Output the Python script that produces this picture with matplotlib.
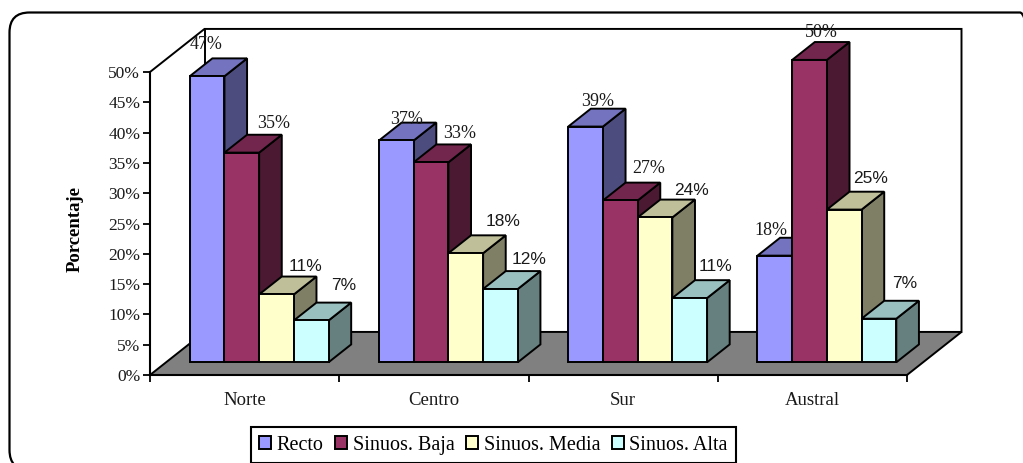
import matplotlib
matplotlib.use('Agg')
import numpy as np
import matplotlib.pyplot as plt
from matplotlib.patches import FancyBboxPatch, Patch, Polygon
from matplotlib.transforms import IdentityTransform

categories = ['Norte', 'Centro', 'Sur', 'Austral']
series_names = ['Recto', 'Sinuos. Baja', 'Sinuos. Media', 'Sinuos. Alta']
recto = [47.2, 36.6, 38.9, 17.6]
baja = [34.6, 33.0, 26.7, 49.9]
media = [11.2, 18.0, 23.9, 25.2]
alta = [6.9, 12.1, 10.6, 7.2]
yticks = [0, 5, 10, 15, 20, 25, 30, 35, 40, 45, 50]

colors = ['#9999FF', '#993366', '#FFFFCC', '#CCFFFF']
tops = ['#7373BF', '#73264D', '#BFBF99', '#99BFBF']
sides = ['#4C4C7F', '#4C1933', '#7F7F66', '#667F7F']

# hand placed labels of the original, pixels from the top centre of each bar
label_dx = [[-1, 32, 29, 32], [10, 29, 37, 29], [12, 28, 36, 26], [-4, 12, 26, 26]]
label_dy = [[32, 29, 28, 35], [21, 29, 32, 29], [25, 32, 27, 32], [25, 27, 31, 35]]

W, H = 1023, 463
DX = 54.5 / 189.25  # depth of the box, category units
DY = 43 / 6.05      # depth of the box, percent units
D0, D1 = 0.295, 0.71
BAR = 0.1834
START = 0.125
LW = 1.4


def proj(x, v, d):
    return (x + d * DX, v + d * DY)


fig = plt.figure(figsize=(W / 100, H / 100), dpi=100, facecolor='white')
ax = fig.add_axes([150 / W, (H - 375) / H, 757 / W, 303 / H])
ax.patch.set_visible(False)
ax.set_xlim(0, 4)
ax.set_ylim(0, 50)

# frame round the chart, runs off the right and bottom of the picture
r = 20
frame = FancyBboxPatch((9.5 + r, H - 470 + r), 1040 - 9.5 - 2 * r, 457.5 - 2 * r,
                       boxstyle='round,pad=%d,rounding_size=%d' % (r, r),
                       transform=IdentityTransform(), fc='none', ec='black', lw=1.6, zorder=-1)
fig.add_artist(frame)

# walls and floor
floor = [proj(0, 0, 0), proj(4, 0, 0), proj(4, 0, 1), proj(0, 0, 1)]
ax.add_patch(Polygon(floor, fc='#808080', ec='black', lw=LW, clip_on=False, zorder=1))
wall = [proj(0, 50, 0), proj(0, 50, 1), proj(4, 50, 1), proj(4, 0, 1)]
ax.plot(*zip(*wall), color='black', lw=LW, clip_on=False, zorder=1, solid_joinstyle='miter')
corner = [proj(0, 0, 1), proj(0, 50, 1)]
ax.plot(*zip(*corner), color='black', lw=LW, clip_on=False, zorder=1)

# bars
all_series = [recto, baja, media, alta]
for c in range(len(categories)):
    for s, vals in enumerate(all_series):
        v = vals[c]
        x0 = c + START + s * BAR
        x1 = x0 + BAR
        side = [proj(x1, 0, D0), proj(x1, 0, D1), proj(x1, v, D1), proj(x1, v, D0)]
        top = [proj(x0, v, D0), proj(x1, v, D0), proj(x1, v, D1), proj(x0, v, D1)]
        front = [proj(x0, 0, D0), proj(x1, 0, D0), proj(x1, v, D0), proj(x0, v, D0)]
        for pts, col in [(side, sides[s]), (top, tops[s]), (front, colors[s])]:
            ax.add_patch(Polygon(pts, fc=col, ec='black', lw=LW, clip_on=False,
                                 joinstyle='miter', zorder=2))

# value labels, first two series are serif in the original
for c in range(len(categories)):
    for s, vals in enumerate(all_series):
        v = vals[c]
        ax.annotate('%.0f%%' % v, proj(c + START + (s + 0.5) * BAR, v, D0),
                    xytext=(label_dx[c][s], label_dy[c][s]), textcoords='offset pixels',
                    ha='center', va='center', color='#1a1a1a', zorder=5, annotation_clip=False,
                    family='Liberation Serif' if s < 2 else 'Liberation Sans',
                    fontsize=13 if s < 2 else 12.5)

# axes
for name in ['top', 'right']:
    ax.spines[name].set_visible(False)
for name in ['left', 'bottom']:
    ax.spines[name].set_linewidth(1.5)
    ax.spines[name].set_zorder(3)
ax.set_yticks(yticks)
ax.set_yticklabels(['%d%%' % t for t in yticks], family='Liberation Serif', fontsize=12.5, color='#1a1a1a')
ax.tick_params(axis='y', length=5, width=1.3, pad=2)
ax.set_xticks(range(len(categories) + 1))
ax.set_xticklabels([])
ax.set_xticks(np.arange(len(categories)) + 0.5, minor=True)
ax.set_xticklabels(categories, minor=True, family='Liberation Serif', fontsize=13.5, color='#1a1a1a')
ax.tick_params(axis='x', which='major', length=5, width=1.3)
ax.tick_params(axis='x', which='minor', length=0, pad=12.5)
ax.set_ylabel('Porcentaje', family='Liberation Serif', fontweight='bold', fontsize=13.5)
ax.yaxis.set_label_coords(-66 / 757, 146 / 303)

# legend
handles = [Patch(fc=colors[i], ec='black', lw=LW) for i in range(4)]
fig.legend(handles, series_names, loc='center', bbox_to_anchor=(493.4 / W, 1 - 445.3 / H), ncol=4,
           prop={'family': 'Liberation Serif', 'size': 14.5}, fancybox=False, edgecolor='black',
           framealpha=1, handlelength=0.6, handleheight=0.6, handletextpad=0.27,
           columnspacing=0.57, borderpad=0.42, borderaxespad=0).get_frame().set_linewidth(1.5)

fig.savefig('out.png', dpi=100)
